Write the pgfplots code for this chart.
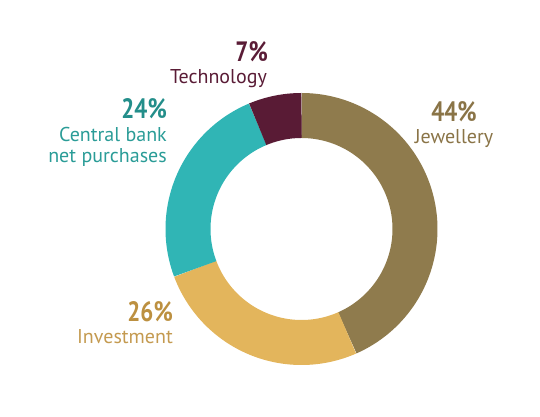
\documentclass[border=0pt]{standalone}
\usepackage{pgfplots}
\pgfplotsset{compat=1.18}
\usepackage{fontspec}
\setmainfont{PT Sans}
\definecolor{cJ}{HTML}{8F7B4D}
\definecolor{cI}{HTML}{E3B55C}
\definecolor{cC}{HTML}{30B5B5}
\definecolor{cT}{HTML}{591B35}
\definecolor{tJ}{HTML}{8A7447}
\definecolor{tI}{HTML}{C49A50}
\definecolor{pI}{HTML}{BC9040}
\definecolor{tC}{HTML}{2A9C97}
\definecolor{pC}{HTML}{238E8A}
\definecolor{tT}{HTML}{5A1C36}
% shares of the ring (percent)
\def\vJ{43.4}
\def\vI{25.9}
\def\vC{24.4}
\def\vT{6.3}
\def\cx{301.5}
\def\cy{188}
\def\rm{113.5}
\newcommand{\pct}[1]{\fontsize{28}{30}\selectfont\bfseries\scalebox{0.82}[1]{#1}}
\newcommand{\lab}{\fontsize{20}{22}\selectfont}
\begin{document}
\begin{tikzpicture}
\begin{axis}[x=1pt,y=1pt,xmin=0,xmax=540,ymin=0,ymax=417,hide axis,clip=false,
  every axis plot/.append style={line cap=butt}]
\addplot[draw=none] coordinates {(0,0) (540,417)};
\addplot[cJ,line width=45pt,samples=120,domain=0:{3.6*\vJ},variable=\t]
  ({\cx+\rm*sin(t)},{\cy+\rm*cos(t)});
\addplot[cI,line width=45pt,samples=80,domain={3.6*\vJ}:{3.6*(\vJ+\vI)},variable=\t]
  ({\cx+\rm*sin(t)},{\cy+\rm*cos(t)});
\addplot[cC,line width=45pt,samples=80,domain={3.6*(\vJ+\vI)}:{3.6*(\vJ+\vI+\vC)},variable=\t]
  ({\cx+\rm*sin(t)},{\cy+\rm*cos(t)});
\addplot[cT,line width=45pt,samples=40,domain={3.6*(\vJ+\vI+\vC)}:360,variable=\t]
  ({\cx+\rm*sin(t)},{\cy+\rm*cos(t)});
\node[anchor=base east,inner sep=0,text=tT] at (axis cs:268,355.3) {\pct{7\%}};
\node[anchor=base east,inner sep=0,text=tT] at (axis cs:267,333.7) {\lab Technology};
\node[anchor=base east,inner sep=0,text=pC] at (axis cs:167,298) {\pct{24\%}};
\node[anchor=base east,inner sep=0,text=tC] at (axis cs:167,275.3) {\lab Central bank};
\node[anchor=base east,inner sep=0,text=tC] at (axis cs:167,254) {\lab net purchases};
\node[anchor=base,inner sep=0,text=tJ] at (axis cs:454,295.3) {\pct{44\%}};
\node[anchor=base,inner sep=0,text=tJ] at (axis cs:454,273) {\lab Jewellery};
\node[anchor=base east,inner sep=0,text=pI] at (axis cs:173,95.3) {\pct{26\%}};
\node[anchor=base east,inner sep=0,text=tI] at (axis cs:173,73) {\lab Investment};
\end{axis}
\end{tikzpicture}
\end{document}
